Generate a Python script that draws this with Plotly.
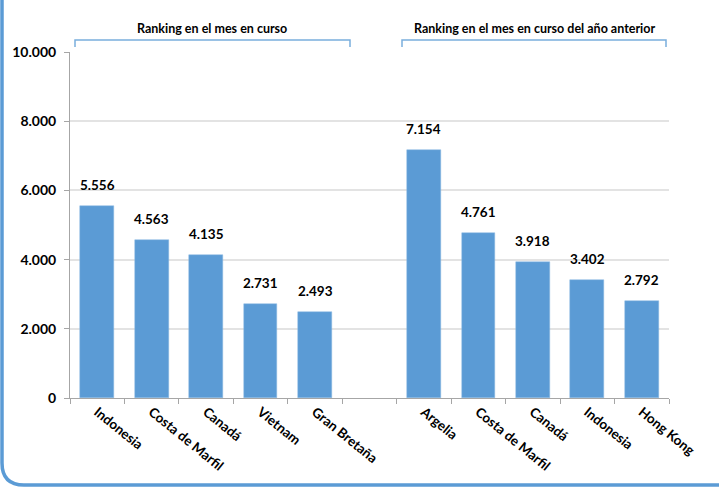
import plotly.graph_objects as go

# ---- data ----
categories = ["Indonesia", "Costa de Marfil", "Canadá", "Vietnam", "Gran Bretaña", "",
              "Argelia", "Costa de Marfil", "Canadá", "Indonesia", "Hong Kong"]
values = [5556, 4563, 4135, 2731, 2493, None, 7154, 4761, 3918, 3402, 2792]
group_labels = ["Ranking en el mes en curso", "Ranking en el mes en curso del año anterior"]
y_ticks = [0, 2000, 4000, 6000, 8000, 10000]

W, H = 719, 488
L, R, T, B = 70, 669, 52, 398  # plot area in pixels

def px(x):
    return (x - L) / (R - L)

def py(y):
    return (B - y) / (B - T)

FONT = "Lato, 'Open Sans', sans-serif"
BLUE = "#5B9BD5"

xs = list(range(len(categories)))
bx = [x for x, v in zip(xs, values) if v is not None]
bv = [v for v in values if v is not None]

fig = go.Figure()
fig.add_trace(go.Bar(
    x=bx, y=bv, width=0.62,
    marker=dict(color=BLUE, line=dict(color="#8DB8E2", width=0.5)),
    hoverinfo="skip",
))

annotations = []
for x, v in zip(bx, bv):
    annotations.append(dict(
        x=x, y=v, xref="x", yref="y", text=f"{v:,}".replace(",", "."),
        showarrow=False, yanchor="bottom", yshift=11,
        font=dict(family=FONT, size=13.5, color="#000000", weight="bold"),
    ))

# group labels
for cx, lab in zip([212, 534], group_labels):
    annotations.append(dict(x=px(cx), y=py(28), xref="paper", yref="paper", text="<b>" + lab + "</b>",
                            xanchor="center", yanchor="middle",
                            showarrow=False, font=dict(family=FONT, size=12.5, color="#000")))

shapes = []
def bracket(x0, x1, ytop, ybot):
    return dict(type="path", xref="paper", yref="paper",
                path=f"M {px(x0)},{py(ybot)} L {px(x0)},{py(ytop)} L {px(x1)},{py(ytop)} L {px(x1)},{py(ybot)}",
                line=dict(color="#7AAEDD", width=1.5))
shapes.append(bracket(75, 350, 40, 47))
shapes.append(bracket(402, 666, 40, 47))

# rounded frame (left & bottom visible)
r = 22
x0, y0, x1, y1 = 2, -30, 745, 485
path = (f"M {px(x0)},{py(y0)} L {px(x0)},{py(y1 - r)} "
        f"Q {px(x0)},{py(y1)} {px(x0 + r)},{py(y1)} "
        f"L {px(x1 - r)},{py(y1)} Q {px(x1)},{py(y1)} {px(x1)},{py(y1 - r)} "
        f"L {px(x1)},{py(y0)}")
shapes.append(dict(type="path", xref="paper", yref="paper", path=path,
                   line=dict(color=BLUE, width=3.5)))

fig.update_layout(
    width=W, height=H,
    margin=dict(l=L, r=W - R, t=T, b=H - B, autoexpand=False),
    paper_bgcolor="white", plot_bgcolor="white",
    separators=",.",
    showlegend=False,
    bargap=0,
    annotations=annotations,
    shapes=shapes,
    xaxis=dict(
        range=[-0.5, len(categories) - 0.5], automargin=False,
        tickmode="array", tickvals=xs, ticktext=categories,
        tickangle=39, ticks="",
        showgrid=False, zeroline=False,
        showline=True, linecolor="#A6A6A6", linewidth=1,
        tickfont=dict(family=FONT, size=13.5, color="#000", weight="bold"),
        minor=dict(ticks="outside", tick0=-0.5, dtick=1, ticklen=5, tickcolor="#A6A6A6", showgrid=False),
    ),
    yaxis=dict(
        range=[0, 10000], tickvals=y_ticks, tickformat=",d", automargin=False,
        ticks="outside", ticklen=5, tickcolor="#A6A6A6", ticklabelstandoff=5,
        showgrid=True, gridcolor="#E3E3E3", gridwidth=1.5,
        zeroline=False, showline=True, linecolor="#A6A6A6", linewidth=1,
        tickfont=dict(family=FONT, size=14, color="#000", weight="bold"),
    ),
)

fig.write_html("out.html", config={"displayModeBar": False},
               post_script="document.body.style.margin='0px';document.body.style.overflow='hidden';")
